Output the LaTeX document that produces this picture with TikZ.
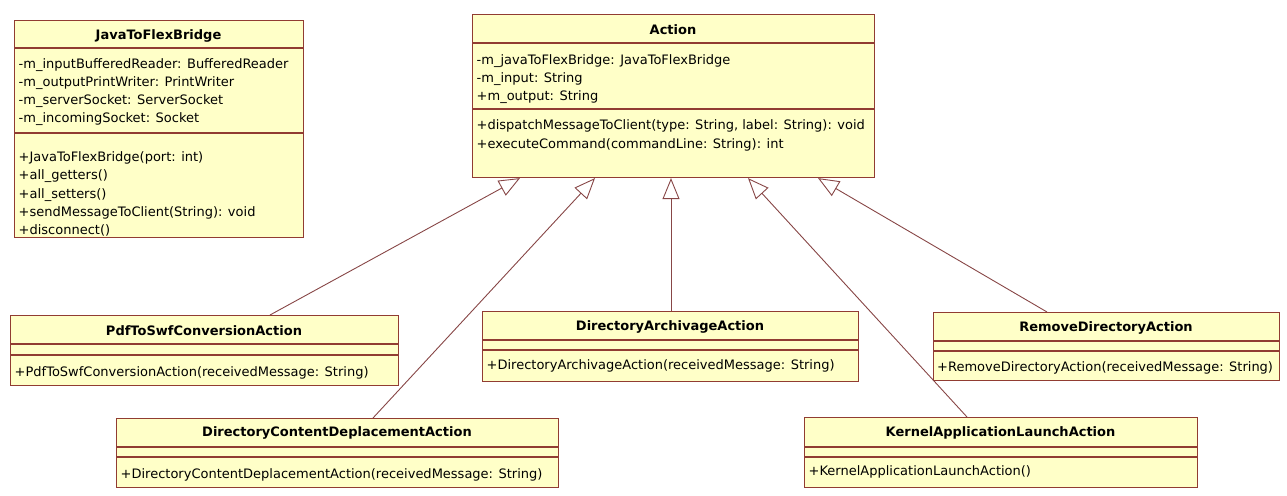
\documentclass[tikz,border=0pt]{standalone}
\usepackage{fontspec}
\setmainfont{DejaVu Sans}
\usetikzlibrary{arrows.meta,calc}
\definecolor{boxfill}{RGB}{255,255,200}
\definecolor{boxline}{RGB}{145,60,50}
\definecolor{conline}{RGB}{135,70,70}
\tikzset{
  cls/.style={draw=boxline, fill=boxfill, line width=1.1pt, inner sep=0pt, anchor=north west},
  sepl/.style={draw=boxline, line width=1.1pt},
  ttl/.style={anchor=base, inner sep=0pt, font=\fontsize{13}{15}\selectfont\bfseries},
  ln/.style={anchor=base west, inner sep=0pt, font=\fontsize{13}{15}\selectfont},
  gen/.style={draw=conline, line width=0.9pt, -{Triangle[open,length=21pt,width=17pt]}}
}
\begin{document}
\begin{tikzpicture}[x=1pt,y=-1pt]
\useasboundingbox (0,0) rectangle (1287,495);

% JavaToFlexBridge
\node[cls, minimum width=289pt, minimum height=217pt] (jfb) at (14,20) {};
\draw[sepl] ($(jfb.north west)+(0,28)$) -- ($(jfb.north east)+(0,28)$);
\draw[sepl] ($(jfb.north west)+(0,113)$) -- ($(jfb.north east)+(0,113)$);
\node[ttl] (jfbT) at (158.5,40) {JavaToFlexBridge};
\node[ln] (jfbA1) at (18.5,68) {-m\_inputBufferedReader: BufferedReader};
\node[ln] (jfbA2) at (18.5,86.3) {-m\_outputPrintWriter: PrintWriter};
\node[ln] (jfbA3) at (18.5,104.6) {-m\_serverSocket: ServerSocket};
\node[ln] (jfbA4) at (18.5,122.9) {-m\_incomingSocket: Socket};
\node[ln] (jfbM1) at (18.5,161.4) {+JavaToFlexBridge(port: int)};
\node[ln] (jfbM2) at (18.5,179.7) {+all\_getters()};
\node[ln] (jfbM3) at (18.5,198) {+all\_setters()};
\node[ln] (jfbM4) at (18.5,216.3) {+sendMessageToClient(String): void};
\node[ln] (jfbM5) at (18.5,234.2) {+disconnect()};

% Action
\node[cls, minimum width=402pt, minimum height=163pt] (act) at (472,14) {};
\draw[sepl] ($(act.north west)+(0,29)$) -- ($(act.north east)+(0,29)$);
\draw[sepl] ($(act.north west)+(0,95)$) -- ($(act.north east)+(0,95)$);
\node[ttl] (actT) at (673,34.7) {Action};
\node[ln] (actA1) at (476.5,64) {-m\_javaToFlexBridge: JavaToFlexBridge};
\node[ln] (actA2) at (476.5,82.4) {-m\_input: String};
\node[ln] (actA3) at (476.5,100.7) {+m\_output: String};
\node[ln] (actM1) at (476.5,129.7) {+dispatchMessageToClient(type: String, label: String): void};
\node[ln] (actM2) at (476.5,148) {+executeCommand(commandLine: String): int};

% PdfToSwfConversionAction
\node[cls, minimum width=388pt, minimum height=70pt] (pdf) at (10,315) {};
\draw[sepl] ($(pdf.north west)+(0,29)$) -- ($(pdf.north east)+(0,29)$);
\draw[sepl] ($(pdf.north west)+(0,40)$) -- ($(pdf.north east)+(0,40)$);
\node[ttl] (pdfT) at (204,335.4) {PdfToSwfConversionAction};
\node[ln] (pdfM1) at (14.5,376.4) {+PdfToSwfConversionAction(receivedMessage: String)};

% DirectoryContentDeplacementAction
\node[cls, minimum width=442pt, minimum height=69pt] (dcd) at (116,418) {};
\draw[sepl] ($(dcd.north west)+(0,29)$) -- ($(dcd.north east)+(0,29)$);
\draw[sepl] ($(dcd.north west)+(0,39)$) -- ($(dcd.north east)+(0,39)$);
\node[ttl] (dcdT) at (337,436.4) {DirectoryContentDeplacementAction};
\node[ln] (dcdM1) at (120.5,478) {+DirectoryContentDeplacementAction(receivedMessage: String)};

% DirectoryArchivageAction
\node[cls, minimum width=376pt, minimum height=70pt] (dar) at (482,311) {};
\draw[sepl] ($(dar.north west)+(0,29)$) -- ($(dar.north east)+(0,29)$);
\draw[sepl] ($(dar.north west)+(0,39)$) -- ($(dar.north east)+(0,39)$);
\node[ttl] (darT) at (670,330.4) {DirectoryArchivageAction};
\node[ln] (darM1) at (486.5,369.7) {+DirectoryArchivageAction(receivedMessage: String)};

% RemoveDirectoryAction
\node[cls, minimum width=346pt, minimum height=68pt] (rem) at (933,312) {};
\draw[sepl] ($(rem.north west)+(0,29)$) -- ($(rem.north east)+(0,29)$);
\draw[sepl] ($(rem.north west)+(0,39)$) -- ($(rem.north east)+(0,39)$);
\node[ttl] (remT) at (1106,331.4) {RemoveDirectoryAction};
\node[ln] (remM1) at (937,371.4) {+RemoveDirectoryAction(receivedMessage: String)};

% KernelApplicationLaunchAction
\node[cls, minimum width=393pt, minimum height=70pt] (kal) at (804,417) {};
\draw[sepl] ($(kal.north west)+(0,30)$) -- ($(kal.north east)+(0,30)$);
\draw[sepl] ($(kal.north west)+(0,40)$) -- ($(kal.north east)+(0,40)$);
\node[ttl] (kalT) at (1000.5,436.4) {KernelApplicationLaunchAction};
\node[ln] (kalM1) at (808.5,475.4) {+KernelApplicationLaunchAction()};

% Generalizations
\draw[gen] ($(pdf.north west)+(260,0)$) -- ($(act.south west)+(48,0)$);
\draw[gen] ($(dcd.north west)+(257,0)$) -- ($(act.south west)+(123,0)$);
\draw[gen] ($(dar.north west)+(189,0)$) -- ($(act.south west)+(199,0)$);
\draw[gen] ($(kal.north west)+(163,0)$) -- ($(act.south west)+(276,0)$);
\draw[gen] ($(rem.north west)+(114,0)$) -- ($(act.south west)+(346,0)$);
\end{tikzpicture}
\end{document}
